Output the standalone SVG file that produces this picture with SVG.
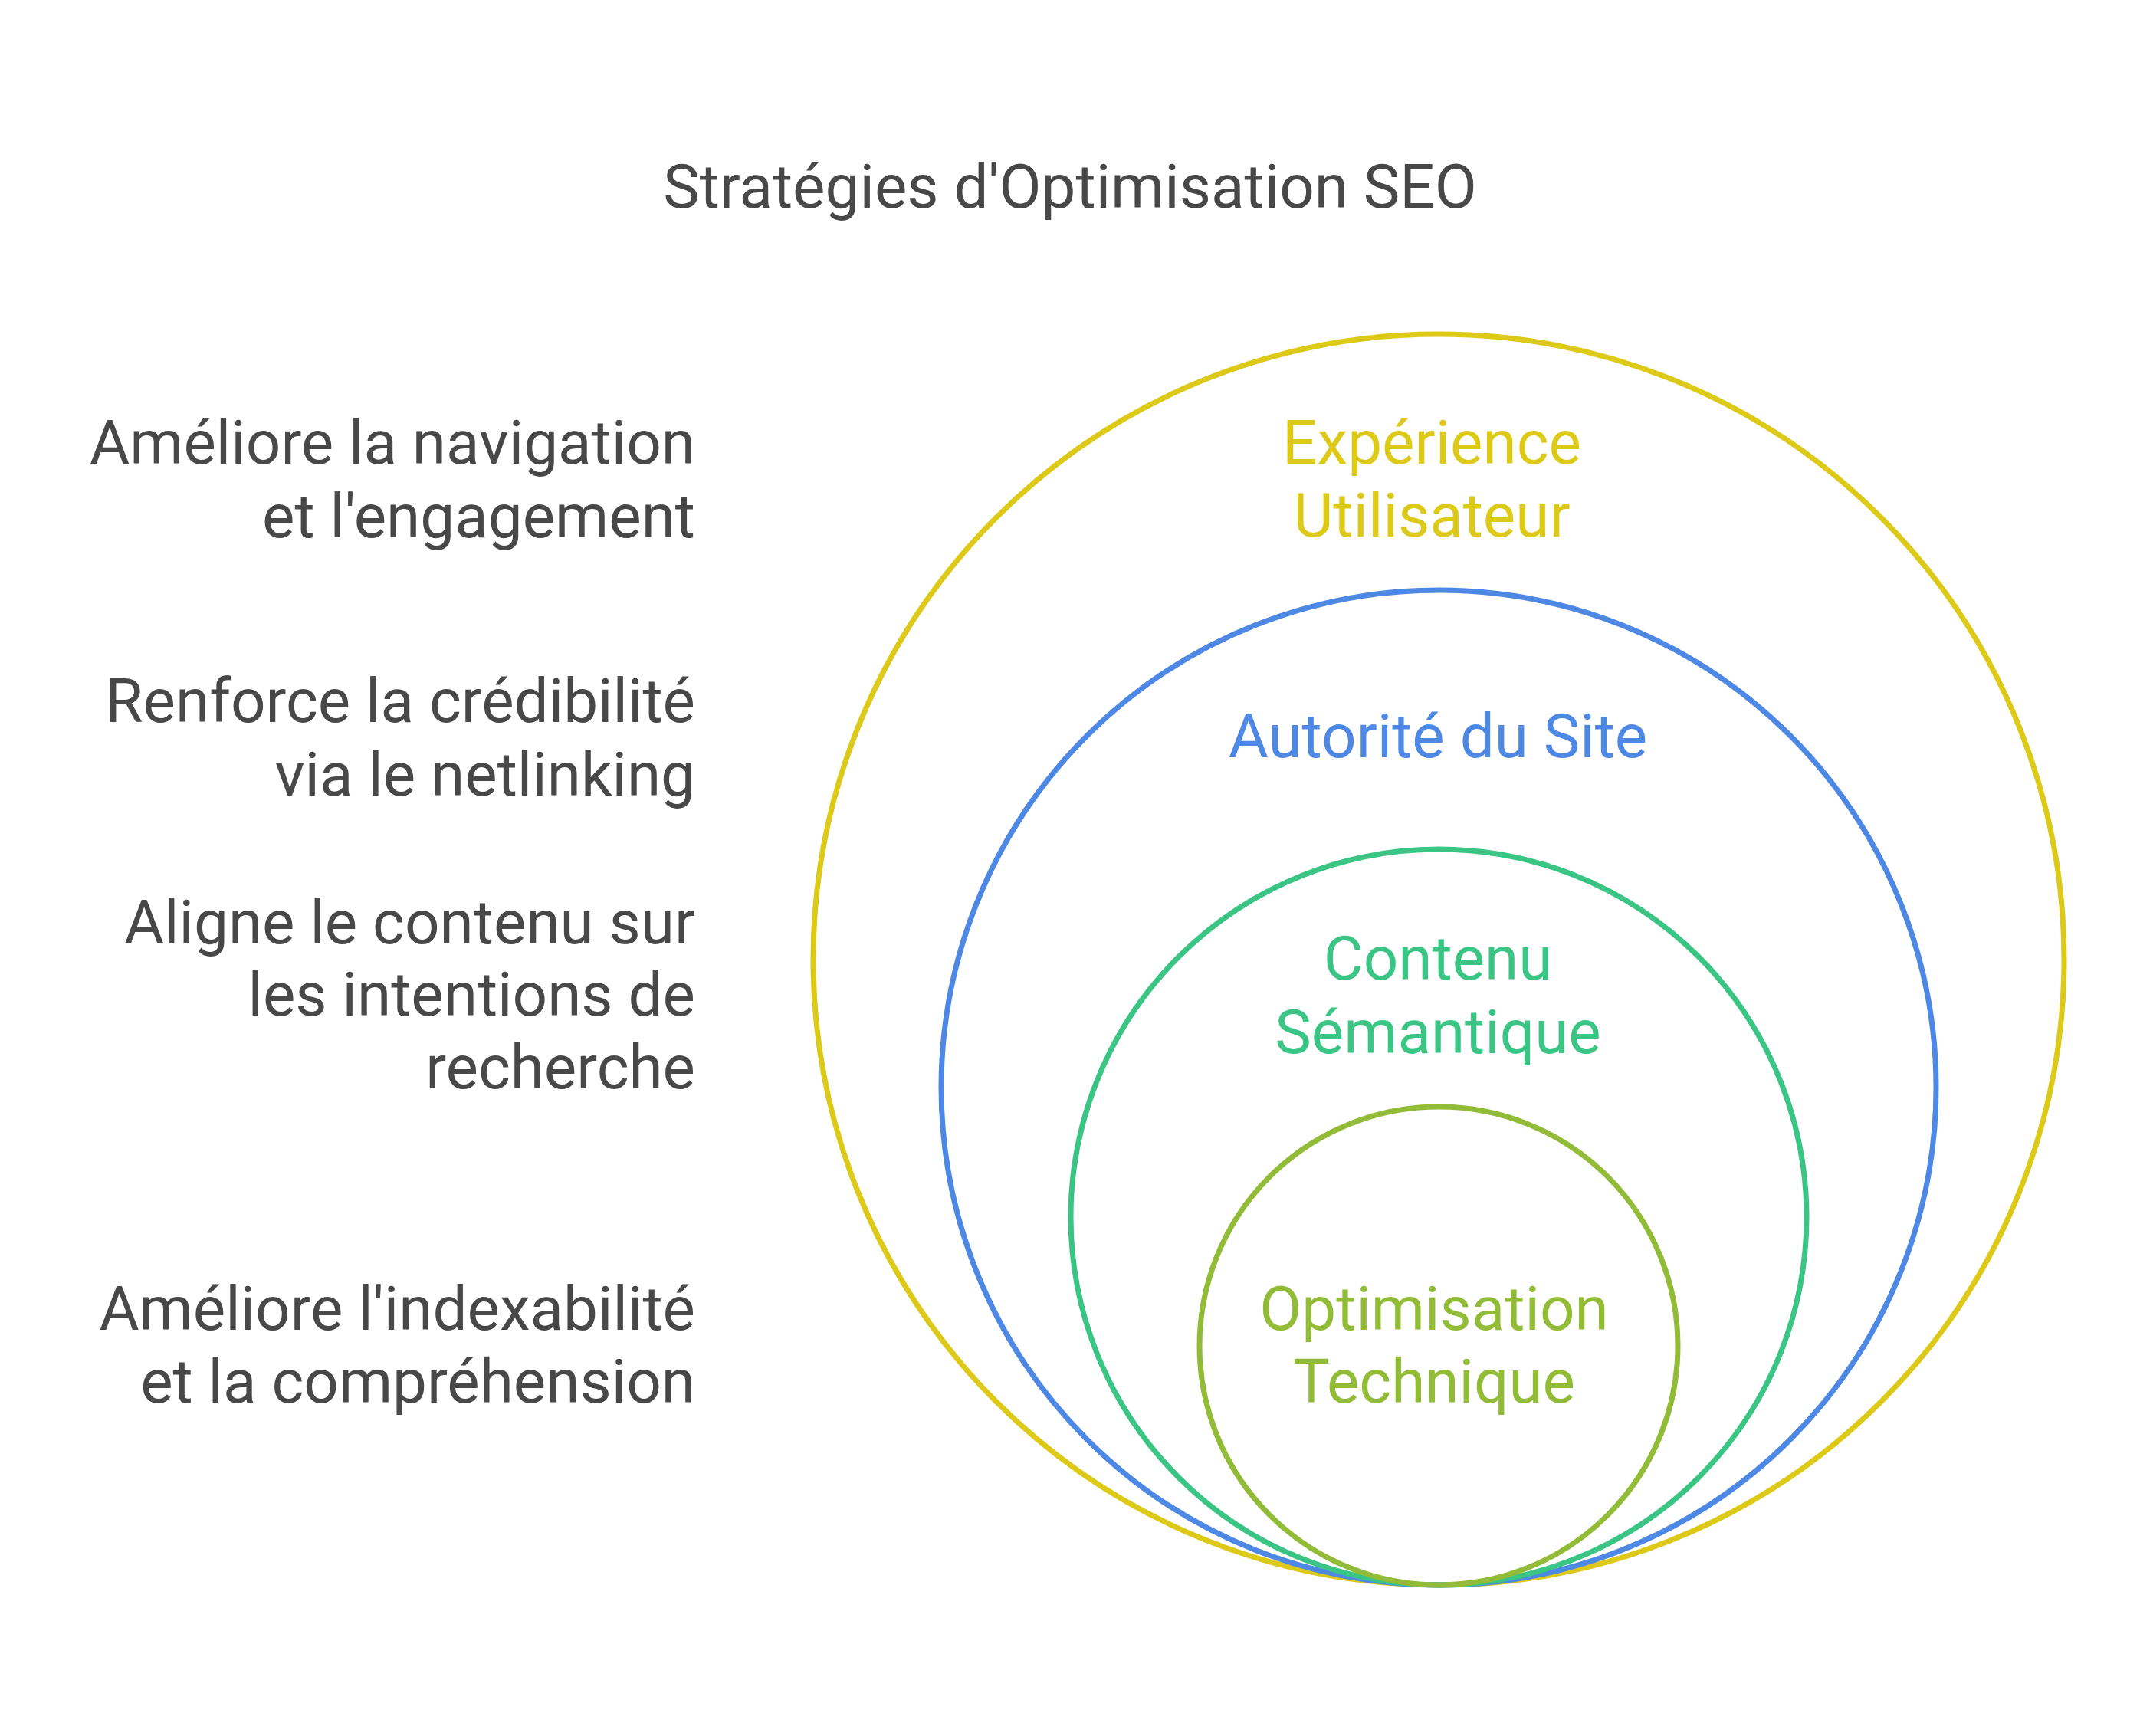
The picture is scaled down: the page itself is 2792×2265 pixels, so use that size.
<svg xmlns="http://www.w3.org/2000/svg" width="2792" height="2265" viewBox="0 0 2792 2265">
<style>
text{font-family:Roboto,"Liberation Sans",sans-serif;font-size:80px}
.d{fill:#484848}
.l{text-anchor:end}
.c{text-anchor:middle}
circle{fill:none;stroke-width:7}
</style>
<rect width="2792" height="2265" fill="#ffffff"/>
<g id="title"><text class="d c" x="1396" y="271">Stratégies d'Optimisation SEO</text></g>
<g id="experience">
<circle cx="1877" cy="1252" r="816" stroke="#DDC917"/>
<text class="c" x="1868" y="605" fill="#DDC917">Expérience</text>
<text class="c" x="1868" y="700" fill="#DDC917">Utilisateur</text>
</g>
<g id="autorite">
<circle cx="1877" cy="1419" r="649" stroke="#4E88E5"/>
<text class="c" x="1876" y="988" fill="#4E88E5">Autorité du Site</text>
</g>
<g id="contenu">
<circle cx="1877" cy="1588" r="480" stroke="#3BC585"/>
<text class="c" x="1876" y="1278" fill="#3BC585">Contenu</text>
<text class="c" x="1876" y="1374" fill="#3BC585">Sémantique</text>
</g>
<g id="technique">
<circle cx="1877" cy="1756" r="312" stroke="#92BC38"/>
<text class="c" x="1871" y="1735" fill="#92BC38">Optimisation</text>
<text class="c" x="1871" y="1830" fill="#92BC38">Technique</text>
</g>
<g id="desc-experience"><text class="d l" x="907" y="605">Améliore la navigation</text><text class="d l" x="907" y="701">et l'engagement</text></g>
<g id="desc-autorite"><text class="d l" x="907" y="942">Renforce la crédibilité</text><text class="d l" x="907" y="1038">via le netlinking</text></g>
<g id="desc-contenu"><text class="d l" x="907" y="1231">Aligne le contenu sur</text><text class="d l" x="907" y="1325">les intentions de</text><text class="d l" x="907" y="1420">recherche</text></g>
<g id="desc-technique"><text class="d l" x="907" y="1735">Améliore l'indexabilité</text><text class="d l" x="907" y="1830">et la compréhension</text></g>
<g id="connectors"/>
</svg>
